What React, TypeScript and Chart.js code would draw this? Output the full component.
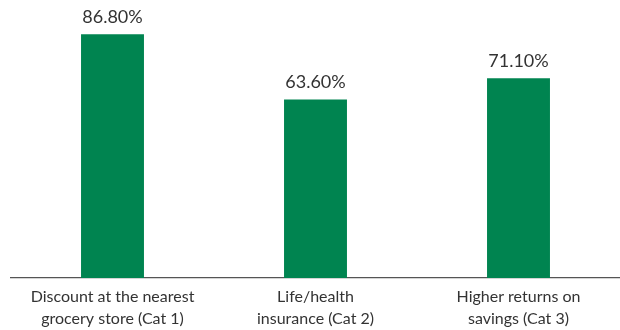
import React, { useEffect, useRef } from "react";
import { Chart, registerables } from "chart.js";

Chart.register(...registerables);

const categories: string[][] = [
  ["Discount at the nearest", "grocery store (Cat 1)"],
  ["Life/health", "insurance (Cat 2)"],
  ["Higher returns on", "savings (Cat 3)"],
];
const shares: number[] = [86.8, 63.6, 71.1];

const BAR_COLOR = "#008450";
const TEXT_COLOR = "#333333";
const FONT = "Lato, 'Noto Sans', sans-serif";

const valueLabels = {
  id: "valueLabels",
  afterDatasetsDraw(chart: Chart) {
    const { ctx } = chart;
    const meta = chart.getDatasetMeta(0);
    ctx.save();
    ctx.fillStyle = TEXT_COLOR;
    ctx.font = `18px ${FONT}`;
    ctx.textAlign = "center";
    ctx.textBaseline = "bottom";
    meta.data.forEach((el: any, i: number) => {
      const v = chart.data.datasets[0].data[i] as number;
      ctx.fillText(`${v.toFixed(2)}%`, el.x, el.y - 8);
    });
    ctx.restore();
  },
};

export default function App() {
  const ref = useRef<HTMLCanvasElement>(null);
  useEffect(() => {
    if (!ref.current) return;
    const chart = new Chart(ref.current, {
      type: "bar",
      data: {
        labels: categories,
        datasets: [
          {
            data: shares,
            backgroundColor: BAR_COLOR,
            categoryPercentage: 1,
            barPercentage: 0.31,
          },
        ],
      },
      options: {
        animation: false,
        responsive: false,
        maintainAspectRatio: false,
        layout: { padding: { left: 11, right: 0, top: 0, bottom: 0 } },
        plugins: {
          legend: { display: false },
          tooltip: { enabled: false },
        },
        scales: {
          x: {
            grid: { drawOnChartArea: false, drawTicks: false },
            border: { display: true, color: "#555555", width: 1.2 },
            ticks: {
              color: TEXT_COLOR,
              font: { family: FONT, size: 16, lineHeight: "22px" },
              padding: 8,
              maxRotation: 0,
              autoSkip: false,
            },
            afterFit: (scale: any) => {
              scale.height = 52;
            },
          },
          y: {
            display: false,
            min: 0,
            max: 99,
          },
        },
      },
      plugins: [valueLabels],
    });
    return () => chart.destroy();
  }, []);
  return (
    <div style={{ position: "fixed", left: 0, top: 0, width: 620, height: 330, background: "#fff" }}>
      <canvas ref={ref} width={620} height={330} style={{ display: "block" }} />
    </div>
  );
}
